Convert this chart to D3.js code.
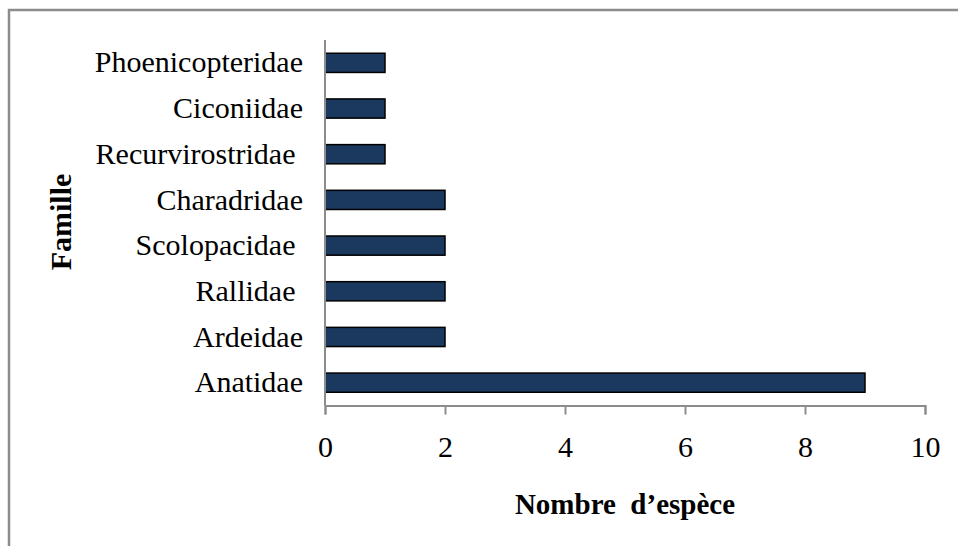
<!DOCTYPE html>
<html>
<head>
<meta charset="utf-8">
<script src="https://cdn.jsdelivr.net/npm/d3@7"></script>
<style>
  body { margin: 0; background: #fff; }
  text { font-family: "Liberation Serif", "Times New Roman", serif; white-space: pre; }
</style>
</head>
<body>
<div id="chart"></div>
<script>
// families, top to bottom as shown
var familles = ["Phoenicopteridae", "Ciconiidae", "Recurvirostridae ", "Charadridae",
                "Scolopacidae ", "Rallidae ", "Ardeidae", "Anatidae"];
var nb_especes = [1, 1, 1, 2, 2, 2, 2, 9];
var x_ticks = [0, 2, 4, 6, 8, 10];

var W = 958, H = 546;
var margin = { top: 40, left: 325, right: 33, bottom: 140 };
var axisY = 405.5;

var svg = d3.select("#chart")
    .append("svg")
    .attr("width", W)
    .attr("height", H);

// outer frame (only top and left edges visible in the picture)
svg.append("rect")
    .attr("x", 9)
    .attr("y", 10)
    .attr("width", W + 20)
    .attr("height", H + 20)
    .attr("fill", "none")
    .attr("stroke", "#8c8c8c")
    .attr("stroke-width", 2.5);

var x = d3.scaleLinear()
    .domain([0, 10])
    .range([margin.left, W - margin.right]);

var y = d3.scaleBand()
    .domain(familles)
    .range([margin.top, axisY])
    .paddingInner(0.58)
    .paddingOuter(0.29);

// bars
svg.append("g")
    .selectAll("rect")
    .data(familles)
    .enter()
    .append("rect")
    .attr("x", x(0))
    .attr("y", function(d) { return y(d); })
    .attr("width", function(d, i) { return x(nb_especes[i]) - x(0); })
    .attr("height", y.bandwidth())
    .attr("fill", "#1b385f")
    .attr("stroke", "#000")
    .attr("stroke-width", 1.5);

// x axis
var xAxis = svg.append("g")
    .attr("transform", "translate(0," + axisY + ")")
    .call(d3.axisBottom(x).tickValues(x_ticks).tickSize(9).tickPadding(21));
xAxis.select(".domain").attr("stroke", "#8c8c8c").attr("stroke-width", 2);
xAxis.selectAll(".tick line").attr("stroke", "#8c8c8c").attr("stroke-width", 2);
xAxis.selectAll(".tick text")
    .attr("fill", "#000")
    .style("font-size", "30px")
    .style("font-family", "'Liberation Serif', serif");

// y axis
var yAxis = svg.append("g")
    .attr("transform", "translate(" + x(0) + ",0)")
    .call(d3.axisLeft(y).tickSize(0).tickPadding(22));
yAxis.select(".domain")
    .attr("d", "M0," + margin.top + "V" + axisY)
    .attr("stroke", "#8c8c8c")
    .attr("stroke-width", 2);
yAxis.selectAll(".tick text")
    .attr("fill", "#000")
    .style("font-size", "30px")
    .style("font-family", "'Liberation Serif', serif");

// axis titles
svg.append("text")
    .attr("x", 625)
    .attr("y", 514)
    .attr("text-anchor", "middle")
    .style("font-size", "29px")
    .style("font-weight", "bold")
    .text("Nombre  d’espèce");

svg.append("text")
    .attr("transform", "translate(71,222) rotate(-90)")
    .attr("text-anchor", "middle")
    .style("font-size", "30px")
    .style("font-weight", "bold")
    .text("Famille");
</script>
</body>
</html>
